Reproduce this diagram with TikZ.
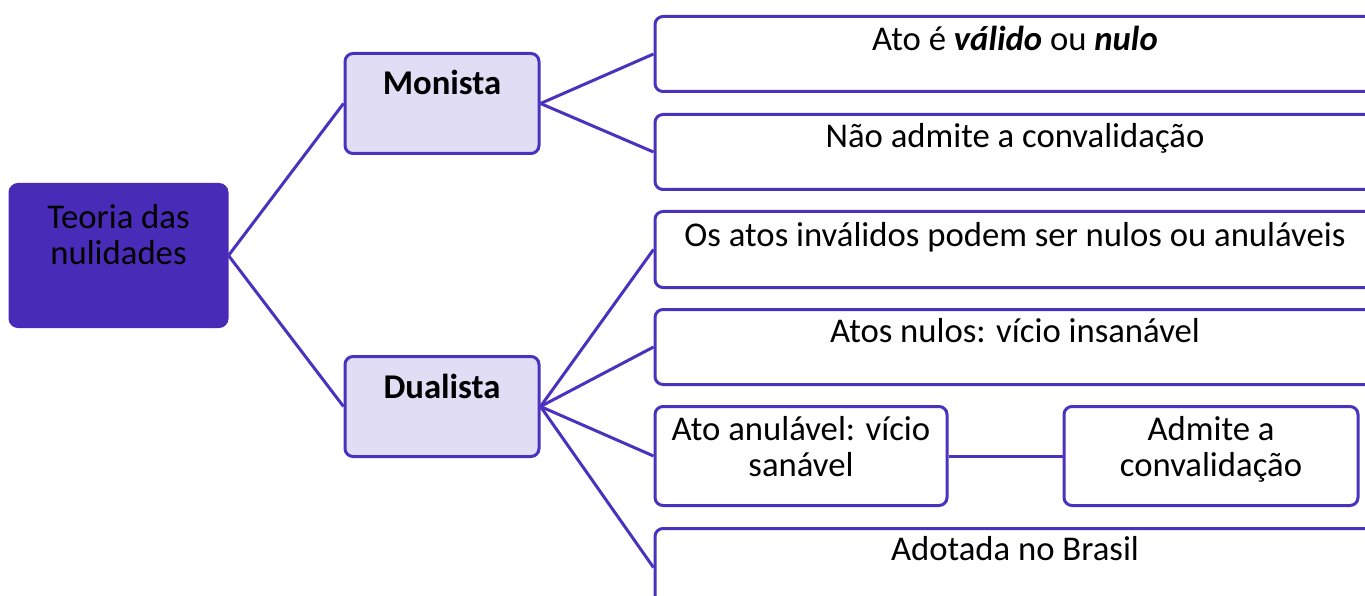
\documentclass[tikz,border=0pt]{standalone}
\usepackage{fontspec}
\setmainfont{Carlito}
\definecolor{edge}{HTML}{4A31BE}
\definecolor{rootfill}{HTML}{482CB8}
\definecolor{branchfill}{HTML}{E0DDF5}
\begin{document}
\begin{tikzpicture}[x=1pt,y=-1pt,
		box/.style={draw=edge,line width=3pt,rounded corners=8pt,inner sep=0pt,
			anchor=north,align=center,fill=white,font=\fontsize{34.7}{36}\selectfont},
		rootbox/.style={box,fill=rootfill,draw=rootfill},
		branch/.style={box,fill=branchfill,font=\fontsize{34.7}{36}\selectfont\bfseries},
		leaf/.style={box,minimum width=720pt},
		link/.style={draw=edge,line width=3pt}]

	\clip (0,0) rectangle (1365,596);

	\node[rootbox,minimum width=217pt,text height=80pt,text depth=62pt] (root) at (118.5,183) {Teoria das\\nulidades};

	\node[branch,minimum width=194pt,text height=41pt,text depth=59pt] (monista) at (442,52) {Monista};
	\node[branch,minimum width=194pt,text height=42pt,text depth=58pt] (dualista) at (442,355) {Dualista};

	\draw[link] (root.east) -- (monista.west);
	\draw[link] (root.east) -- (dualista.west);

	\node[leaf,text height=34pt,text depth=41pt] (valido) at (1015,15) {Ato é \textbf{\textit{válido}} ou \textbf{\textit{nulo}}};
	\node[leaf,text height=33pt,text depth=42pt] (semconv) at (1015,113) {Não admite a convalidação};

	\draw[link] (monista.east) -- (valido.west);
	\draw[link] (monista.east) -- (semconv.west);

	\node[leaf,text height=35pt,text depth=41pt] (invalidos) at (1015,210) {Os atos inválidos podem ser nulos ou anuláveis};
	\node[leaf,text height=33pt,text depth=42pt] (nulos) at (1015,308) {Atos nulos: vício insanável};
	\node[box,minimum width=292pt,text height=70pt,text depth=29pt] (anulavel) at (801,405) {Ato anulável: vício\\sanável};
	\node[box,minimum width=294pt,text height=70pt,text depth=29pt] (convalida) at (1211,405) {Admite a\\convalidação};
	\node[leaf,text height=32pt,text depth=46pt] (brasil) at (1015,527) {Adotada no Brasil};

	\draw[link] (dualista.east) -- (invalidos.west);
	\draw[link] (dualista.east) -- (nulos.west);
	\draw[link] (dualista.east) -- (anulavel.west);
	\draw[link] (dualista.east) -- (brasil.west);
	\draw[link] (anulavel) -- (convalida);

\end{tikzpicture}
\end{document}
